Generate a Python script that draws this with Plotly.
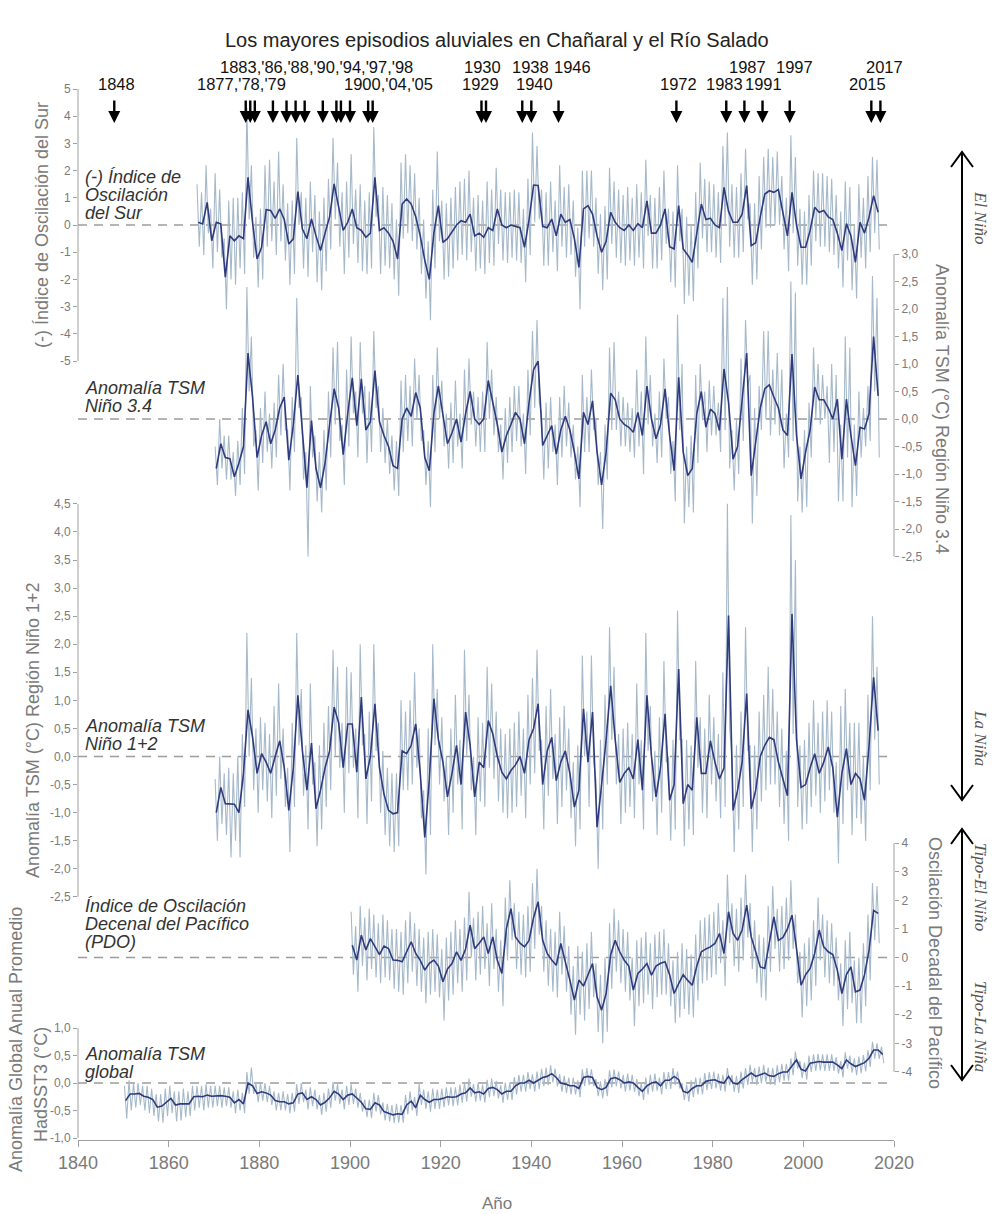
import plotly.graph_objects as go

# ------------------------------------------------------------------
# DATA (annual values)
# ------------------------------------------------------------------
SOI_START = 1866   # (-) Southern Oscillation Index
SOI_SMOOTH = [
    0.1, 0.04, 0.83, -0.58,
    0.1, 0.04, -1.92, -0.4, -0.58, -0.4, -0.5, 1.75, 0.1, -1.25,
    -0.82, 0.56, 0.53, 0.24, 0.59, 0.2, -0.7, -0.51, 1.23, -0.15,
    -0.5, 0.22, -0.4, -0.94, -0.3, 0.3, 1.51, 0.6, -0.2, 0.1,
    0.59, -0.1, -0.2, -0.45, -0.3, 1.75, -0.2, -0.1, -0.3, -0.6,
    -1.25, 0.77, 0.96, 0.77, 0.3, -0.4, -1.3, -2.0, -0.3, 0.71,
    -0.64, -0.5, -0.27, 0.0, 0.16, 0.1, 0.4, -0.4, -0.3, -0.45,
    -0.1, -0.2, 0.59, 0.0, -0.1, 0.0, -0.05, -0.1, -0.82, 0.2,
    1.47, 1.45, -0.05, -0.1, 0.22, -0.4, 0.4, 0.1, 0.2, -0.5,
    -1.56, 0.59, 0.71, 0.4, -0.4, -1.0, -0.6, 0.47, 0.1, -0.1,
    -0.2, 0.0, -0.2, 0.05, -0.1, 0.89, -0.3, -0.3, 0.0, 0.59,
    -0.8, -0.88, 0.71, -0.88, -1.1, -1.37, -0.3, 0.77, 0.2, 0.25,
    0.0, -0.1, 1.38, 0.5, 0.1, 0.1, 0.4, 1.45, -0.76, -0.65,
    0.3, 1.14, 1.26, 1.2, 1.3, 0.4, -0.4, 1.2, 0.0, -0.82,
    -0.82, -0.2, 0.65, 0.47, 0.53, 0.3, 0.2, -0.3, -0.94, 0.05,
    -0.4, -1.37, 0.1, -0.3, 0.3, 1.08, 0.47]
SOI_HIGH = [
    1.5, 1.2, 2.2, 0.6,
    1.9, 1.3, -0.5, 0.9, 1.0, 1.0, 1.2, 4.3, 2.2, 0.3,
    0.6, 2.2, 2.4, 1.6, 2.7, 1.5, 0.8, 0.9, 3.2, 1.2,
    1.0, 1.6, 1.1, 0.5, 1.0, 1.7, 3.2, 2.3, 1.2, 1.6,
    2.6, 1.3, 1.5, 0.9, 1.2, 3.6, 1.1, 1.4, 1.1, 0.8,
    0.2, 2.3, 2.6, 2.2, 1.9, 1.0, 0.2, -0.6, 1.3, 2.7,
    0.9, 0.8, 1.0, 1.4, 1.6, 1.7, 2.0, 1.0, 1.1, 0.9,
    1.6, 1.3, 2.1, 1.3, 1.2, 1.2, 1.3, 1.2, 0.6, 1.7,
    3.4, 2.9, 1.3, 1.2, 1.6, 0.9, 2.2, 1.4, 1.5, 0.9,
    -0.1, 2.0, 2.0, 2.0, 1.0, 0.4, 0.7, 2.1, 1.6, 1.3,
    1.1, 1.4, 1.0, 1.5, 1.2, 2.4, 1.1, 1.0, 1.4, 2.0,
    0.6, 0.5, 2.2, 0.6, 0.3, 0.0, 1.2, 2.3, 1.7, 1.6,
    1.5, 1.2, 2.9, 3.4, 1.5, 1.4, 1.9, 2.8, 0.8, 0.8,
    1.8, 2.5, 2.8, 2.5, 2.7, 1.8, 1.0, 3.3, 2.5, 0.6,
    0.5, 1.1, 2.0, 1.9, 1.9, 1.8, 1.7, 1.1, 0.5, 1.6,
    1.4, 0.0, 1.5, 1.0, 1.8, 2.5, 2.4]
SOI_LOW = [
    -0.8, -1.1, -0.3, -1.6,
    -1.0, -1.2, -3.1, -2.0, -2.2, -1.6, -1.8, 0.2, -1.2, -2.3,
    -2.0, -0.8, -0.6, -1.1, -0.6, -1.3, -2.2, -1.8, 0.0, -1.6,
    -1.9, -1.0, -2.1, -2.4, -1.7, -0.9, 0.2, -0.8, -1.8, -1.2,
    -0.7, -1.4, -1.7, -1.8, -1.6, 0.3, -1.8, -1.5, -1.6, -2.0,
    -2.6, -0.5, -0.3, -0.6, -0.9, -1.8, -2.7, -3.5, -1.6, -0.6,
    -2.0, -1.9, -1.6, -1.3, -1.1, -1.3, -1.0, -1.7, -1.6, -1.8,
    -1.4, -1.5, -0.7, -1.3, -1.4, -1.2, -1.3, -1.4, -2.1, -1.1,
    0.1, 0.2, -1.5, -1.5, -1.0, -1.7, -0.8, -1.2, -1.1, -1.9,
    -3.1, -0.8, -0.5, -0.8, -1.8, -2.4, -2.0, -0.7, -1.2, -1.4,
    -1.5, -1.3, -1.5, -1.2, -1.6, -0.4, -1.6, -1.6, -1.3, -0.7,
    -2.1, -2.3, -0.6, -2.9, -2.6, -2.8, -1.6, -0.5, -1.0, -1.0,
    -1.2, -1.4, 0.0, -0.8, -1.2, -1.2, -1.0, 0.2, -2.2, -2.0,
    -0.9, -0.1, -0.1, 0.0, 0.0, -0.9, -1.7, -0.3, -1.5, -2.2,
    -2.2, -1.5, -0.6, -0.8, -0.8, -1.0, -1.1, -1.6, -2.3, -1.3,
    -2.4, -2.7, -1.2, -1.6, -1.0, -0.3, -0.9]

N34_START = 1870   # SST anomaly Nino 3.4
N34_SMOOTH = [
    -0.9, -0.45, -0.7, -0.72, -1.05, -0.8, -0.5, 1.2, 0.4, -0.7,
    -0.3, -0.05, -0.45, -0.2, 0.2, 0.4, -0.75, -0.1, 0.8, -0.3,
    -1.25, -0.03, -0.9, -1.25, -0.8, -0.1, 0.55, 0.2, -0.65, 0.1,
    0.75, -0.12, 0.73, -0.2, -0.05, 0.88, -0.05, -0.3, -0.5, -0.85,
    -0.9, 0.0, 0.2, 0.05, 0.48, 0.2, -0.7, -0.94, 0.1, 0.6,
    0.1, -0.45, -0.25, 0.0, -0.42, 0.1, 0.5, 0.0, -0.1, 0.0,
    0.7, 0.3, -0.1, -0.6, -0.3, -0.1, 0.12, 0.0, -0.45, 0.3,
    0.9, 1.05, -0.48, -0.3, -0.12, -0.64, -0.2, 0.05, -0.2, -0.6,
    -1.09, 0.12, -0.1, 0.33, -0.6, -1.2, -0.6, 0.47, 0.35, 0.0,
    -0.1, -0.15, -0.24, 0.12, -0.3, 0.6, 0.0, -0.36, -0.1, 0.55,
    -0.3, -0.94, 0.76, -0.6, -1.03, -0.9, 0.1, 0.5, -0.15, 0.18,
    0.1, -0.21, 0.91, 0.3, -0.73, -0.5, 0.3, 1.2, -1.03, -0.4,
    0.2, 0.55, 0.62, 0.4, 0.2, -0.2, -0.3, 1.18, -0.3, -1.09,
    -0.6, -0.2, 0.58, 0.35, 0.35, 0.2, 0.0, 0.36, -0.73, 0.36,
    -0.3, -0.85, -0.15, -0.18, 0.1, 1.5, 0.42]
N34_HIGH = [
    -0.5, 0.0, -0.3, -0.3, -0.6, -0.4, 0.2, 2.4, 1.5, -0.2,
    0.2, 0.5, 0.1, 0.3, 0.8, 1.0, -0.2, 0.4, 2.2, 0.4,
    -0.6, 0.6, -0.3, -0.6, -0.2, 0.5, 1.3, 1.4, -0.1, 0.9,
    1.5, 0.5, 1.4, 0.6, 0.5, 1.6, 0.6, 0.2, 0.0, -0.3,
    -0.4, 0.7, 0.8, 0.6, 1.1, 0.8, -0.2, -0.4, 0.8, 1.3,
    0.7, 0.1, 0.3, 0.7, 0.1, 0.9, 1.1, 0.5, 0.4, 0.5,
    1.4, 0.9, 0.4, -0.1, 0.2, 0.4, 0.6, 0.6, 0.1, 0.9,
    1.6, 1.8, 0.1, 0.3, 0.4, -0.1, 0.4, 0.6, 0.3, -0.1,
    -0.5, 0.8, 0.4, 0.9, 0.0, -0.6, -0.1, 1.3, 1.4, 0.5,
    0.4, 0.3, 0.2, 0.9, 0.5, 1.5, 0.8, 0.1, 0.5, 1.1,
    0.4, -0.4, 1.9, 1.0, -0.5, -0.3, 0.8, 1.0, 0.5, 0.7,
    0.6, 0.3, 2.2, 2.4, -0.2, 0.0, 1.1, 1.8, 0.8, 0.2,
    0.6, 1.6, 1.6, 0.9, 1.2, 0.9, 0.1, 2.5, 2.3, -0.5,
    -0.2, 0.3, 1.3, 1.0, 0.8, 0.6, 1.0, 0.8, -0.1, 1.5,
    1.3, -0.1, 0.5, 0.2, 0.6, 2.6, 2.2]
N34_LOW = [
    -1.2, -0.9, -1.1, -1.1, -1.4, -1.2, -1.0, 0.5, -0.5, -1.3,
    -0.8, -0.6, -0.9, -0.7, -0.3, -0.2, -1.3, -0.6, 0.2, -1.1,
    -2.5, -0.7, -1.5, -1.7, -1.3, -0.7, -0.1, -0.4, -1.2, -0.5,
    0.1, -0.7, 0.1, -0.8, -0.6, 0.2, -0.6, -0.8, -1.0, -1.3,
    -1.4, -0.6, -0.4, -0.5, 0.0, -0.4, -1.2, -1.6, -0.6, 0.0,
    -0.5, -0.9, -0.8, -0.5, -0.9, -0.4, -0.1, -0.5, -0.6, -0.6,
    0.0, -0.3, -0.6, -1.1, -0.8, -0.6, -0.4, -0.5, -1.0, -0.3,
    0.2, 0.3, -1.1, -0.9, -0.6, -1.2, -0.7, -0.5, -0.7, -1.1,
    -1.6, -0.6, -0.6, -0.2, -1.2, -2.0, -1.1, -0.2, -0.2, -0.5,
    -0.5, -0.6, -0.7, -0.5, -1.0, -0.1, -0.5, -0.8, -0.7, 0.0,
    -1.0, -1.5, -0.2, -1.9, -1.6, -1.7, -0.8, 0.0, -0.6, -0.3,
    -0.3, -0.6, -0.2, -0.9, -1.3, -1.0, -0.4, 0.6, -1.9, -1.4,
    -0.2, 0.0, -0.3, -0.1, -0.3, -0.9, -0.7, -0.4, -1.5, -1.7,
    -1.6, -0.7, 0.0, -0.1, 0.0, -0.8, -0.6, -1.5, -1.5, -0.7,
    -1.6, -1.4, -0.7, -0.5, -0.4, 0.5, -0.7]

N12_START = 1870   # SST anomaly Nino 1+2
N12_SMOOTH = [
    -1.0, -0.55, -0.84, -0.85, -0.85, -1.0, -0.3, 0.83, 0.35, -0.3,
    0.05, -0.1, -0.3, 0.0, 0.28, -0.2, -0.96, -0.2, 1.09, 0.1,
    -0.6, 0.24, -0.93, -0.6, -0.2, 0.1, 0.88, 0.6, -0.2, 0.58,
    0.58, -0.28, 1.06, -0.4, 0.0, 0.94, -0.2, -0.67, -0.96, -1.02,
    -1.0, 0.1, 0.05, 0.2, 0.58, -0.3, -1.44, -0.4, 1.03, 0.3,
    -0.1, -0.72, -0.3, 0.2, -0.5, 0.79, 0.2, -0.72, -0.1, -0.2,
    0.64, 0.4, 0.0, -0.28, -0.4, -0.25, -0.15, 0.0, -0.3, 0.3,
    0.5, 0.94, -0.5, 0.1, 0.34, -0.43, -0.1, 0.1, -0.3, -0.9,
    -0.6, 0.85, -0.1, 0.79, -1.26, -0.5, 0.3, 1.26, 0.3, -0.46,
    -0.3, -0.2, -0.4, 0.3, -0.6, 1.09, 0.0, -0.72, -0.2, 0.76,
    -0.78, -0.5, 1.56, -0.84, -0.5, -0.6, 0.7, -0.3, -0.3, 0.28,
    -0.1, -0.4, -0.2, 2.51, -0.96, -0.6, -0.1, 1.12, -0.93, -0.6,
    0.0, 0.2, 0.34, 0.3, -0.1, -0.4, -0.7, 2.54, 0.3, -0.55,
    -0.5, -0.2, 0.05, -0.3, -0.1, 0.17, -0.2, -1.08, -0.3, 0.14,
    -0.5, -0.3, -0.4, -0.78, 0.2, 1.41, 0.46]
N12_HIGH = [
    -0.4, 0.0, -0.3, -0.2, -0.3, 0.0, 0.4, 2.2, 1.4, 0.5,
    0.7, 0.6, 0.4, 0.9, 1.3, 0.5, -0.2, 0.6, 2.2, 1.2,
    0.2, 1.3, -0.1, 0.2, 0.6, 0.9, 1.9, 1.6, 0.6, 1.6,
    1.5, 0.5, 2.0, 0.4, 0.8, 2.0, 0.6, 0.1, -0.2, -0.3,
    -0.3, 1.0, 0.8, 1.0, 1.5, 0.5, -0.6, 0.5, 2.0, 1.2,
    0.7, 0.0, 0.5, 1.1, 0.3, 1.9, 1.1, 0.0, 0.7, 0.6,
    1.6, 1.3, 0.8, 0.5, 0.4, 0.5, 0.6, 0.8, 0.5, 1.1,
    1.4, 1.9, 0.3, 0.9, 1.2, 0.4, 0.7, 0.9, 0.5, -0.1,
    0.2, 1.8, 0.8, 1.8, -0.4, 0.3, 1.1, 2.3, 1.6, 0.4,
    0.5, 0.6, 0.4, 1.3, 0.3, 2.2, 0.9, 0.1, 0.7, 1.7,
    0.0, 0.3, 2.6, 0.3, 0.3, 0.2, 1.7, 0.7, 0.5, 1.1,
    0.7, 0.4, 1.5, 4.5, 0.0, 0.2, 0.8, 2.3, 0.2, 0.2,
    0.8, 1.1, 1.6, 1.2, 0.8, 0.5, 0.1, 4.3, 3.5, 0.2,
    0.3, 0.6, 1.0, 0.6, 0.8, 1.0, 0.8, -0.1, 0.9, 1.2,
    0.6, 0.6, 0.6, 0.0, 1.1, 2.5, 1.6]
N12_LOW = [
    -1.5, -1.2, -1.4, -1.8, -1.5, -1.8, -0.9, 0.0, -0.6, -1.0,
    -0.6, -0.8, -1.1, -0.7, -0.4, -0.9, -1.7, -0.9, 0.2, -0.7,
    -1.3, -0.5, -1.6, -1.3, -0.9, -0.6, 0.0, -0.2, -1.0, -0.3,
    -0.2, -1.1, 0.2, -1.2, -0.8, 0.1, -1.0, -1.4, -1.6, -1.7,
    -1.6, -0.6, -0.6, -0.5, -0.2, -1.1, -2.1, -1.4, 0.2, -0.5,
    -0.8, -1.4, -1.0, -0.5, -1.3, 0.0, -0.6, -1.4, -0.8, -0.9,
    -0.2, -0.4, -0.8, -1.0, -1.1, -1.0, -0.9, -0.7, -1.1, -0.5,
    -0.3, 0.1, -1.3, -0.7, -0.4, -1.2, -0.9, -0.6, -1.1, -1.6,
    -1.3, 0.0, -0.9, -0.1, -2.0, -1.3, -0.5, 0.3, -0.5, -1.2,
    -1.0, -0.9, -1.1, -0.5, -1.3, 0.1, -0.8, -1.4, -1.0, -0.1,
    -1.5, -1.3, 0.3, -1.6, -1.3, -1.4, -0.2, -1.0, -1.1, -0.5,
    -0.8, -1.1, -0.9, 0.5, -1.7, -1.3, -0.9, 0.1, -1.7, -1.3,
    -0.8, -0.6, -0.5, -0.5, -0.9, -1.2, -1.5, 0.4, -0.9, -1.3,
    -1.2, -0.9, -0.7, -1.0, -0.8, -0.6, -1.0, -1.9, -1.2, -0.6,
    -1.4, -1.1, -1.2, -1.5, -0.6, 0.3, -0.5]

PDO_START = 1900   # Pacific Decadal Oscillation
PDO_SMOOTH = [
    0.43, -0.09, 0.78, 0.26, 0.66, 0.37, 0.1, 0.4, 0.31, -0.09,
    -0.1, -0.15, 0.2, 0.55, 0.14, -0.1, -0.44, -0.2, -0.09, -0.3,
    -0.85, -0.4, -0.21, 0.2, -0.1, 0.3, 1.13, 0.31, 0.5, 0.72,
    0.14, 0.72, -0.1, -0.56, 1.01, 1.71, 0.72, 0.5, 0.37, 0.6,
    1.4, 1.95, 0.6, 0.14, -0.09, -0.27, 0.49, -0.1, -0.79, -1.49,
    -0.79, -1.0, -0.6, -0.21, -1.38, -1.84, -1.26, 0.1, 0.6, 0.2,
    -0.1, -0.3, -1.14, -0.56, -0.4, -0.21, -0.62, -0.3, -0.2, -0.15,
    -0.6, -1.26, -0.91, -0.6, -0.8, -0.97, -0.3, 0.2, 0.3, 0.37,
    0.49, 0.84, 0.14, 1.6, 0.84, 0.6, 0.96, 1.83, 0.72, 0.2,
    -0.33, -0.38, 0.6, 1.42, 0.6, 0.7, 1.0, 1.48, 0.3, -0.97,
    -0.6, -0.38, 0.14, 0.96, 0.37, 0.2, 0.1, -0.44, -1.26, -0.6,
    -0.33, -1.2, -1.14, -0.6, 0.26, 1.65, 1.54]
PDO_HIGH = [
    1.6, 1.1, 1.8, 1.4, 1.7, 1.5, 1.2, 1.5, 1.3, 1.0,
    1.0, 0.9, 1.3, 1.6, 1.2, 1.0, 0.7, 0.9, 1.0, 0.8,
    0.3, 0.7, 0.9, 1.3, 1.0, 1.4, 2.3, 1.4, 1.6, 1.8,
    1.2, 1.9, 1.0, 0.6, 2.1, 2.7, 1.9, 1.6, 1.5, 1.8,
    2.6, 3.1, 1.8, 1.3, 1.0, 0.9, 1.6, 1.1, 0.4, -0.3,
    0.4, 0.2, 0.5, 0.9, -0.2, -0.6, 0.0, 1.2, 1.7, 1.3,
    1.0, 0.9, 0.0, 0.6, 0.7, 0.9, 0.5, 0.8, 0.9, 1.0,
    0.5, -0.1, 0.2, 0.5, 0.3, 0.1, 0.8, 1.3, 1.4, 1.5,
    1.6, 1.9, 1.3, 2.9, 1.9, 1.7, 2.1, 2.9, 1.9, 1.3,
    0.8, 0.7, 1.8, 2.5, 1.7, 1.8, 2.1, 2.7, 1.5, 0.2,
    0.5, 0.7, 1.3, 2.1, 1.5, 1.3, 1.2, 0.7, -0.2, 0.6,
    0.9, -0.1, 0.0, 0.5, 1.5, 2.6, 2.5]
PDO_LOW = [
    -0.6, -1.2, -0.3, -0.8, -0.4, -0.7, -0.9, -0.7, -0.8, -1.1,
    -1.2, -1.3, -0.9, -0.5, -1.0, -1.2, -1.6, -1.3, -1.2, -1.4,
    -2.2, -1.5, -1.3, -0.9, -1.2, -0.8, 0.0, -0.8, -0.6, -0.4,
    -1.0, -0.4, -1.2, -1.7, -0.1, 0.6, -0.4, -0.6, -0.7, -0.5,
    0.3, 0.8, -0.5, -1.0, -1.2, -1.4, -0.6, -1.2, -2.0, -2.7,
    -2.0, -2.2, -1.8, -1.4, -2.6, -3.0, -2.6, -1.1, -0.5, -0.9,
    -1.2, -1.5, -2.4, -1.7, -1.6, -1.3, -1.8, -1.4, -1.3, -1.3,
    -1.7, -2.3, -2.1, -1.8, -2.0, -2.1, -1.5, -0.9, -0.8, -0.7,
    -0.6, -0.2, -1.0, 0.5, -0.3, -0.5, -0.1, 0.7, -0.4, -0.9,
    -1.4, -1.5, -0.5, 0.3, -0.5, -0.4, -0.1, 0.3, -0.9, -2.1,
    -1.7, -1.5, -1.0, -0.1, -0.7, -0.9, -1.0, -1.5, -2.4, -1.8,
    -1.6, -2.3, -2.3, -1.7, -0.8, 0.6, 0.5]

GLB_START = 1850   # global mean SST anomaly HadSST3
GLB_SMOOTH = [
    -0.32, -0.2, -0.2, -0.19, -0.24, -0.26, -0.3, -0.44, -0.42, -0.35,
    -0.28, -0.4, -0.38, -0.38, -0.38, -0.25, -0.24, -0.25, -0.22, -0.24,
    -0.23, -0.23, -0.24, -0.26, -0.36, -0.3, -0.38, 0.0, -0.05, -0.19,
    -0.16, -0.18, -0.22, -0.32, -0.34, -0.34, -0.38, -0.36, -0.2, -0.18,
    -0.3, -0.25, -0.3, -0.4, -0.35, -0.27, -0.15, -0.2, -0.3, -0.22,
    -0.2, -0.28, -0.35, -0.47, -0.48, -0.36, -0.4, -0.52, -0.55, -0.58,
    -0.56, -0.57, -0.4, -0.33, -0.45, -0.22, -0.3, -0.35, -0.3, -0.3,
    -0.28, -0.25, -0.26, -0.25, -0.2, -0.18, -0.09, -0.18, -0.16, -0.2,
    -0.1, -0.08, -0.12, -0.2, -0.15, -0.15, -0.05, 0.0, 0.0, 0.05,
    0.0, 0.05, 0.1, 0.12, 0.17, 0.1, 0.0, -0.02, -0.05, -0.05,
    -0.1, 0.1, 0.12, 0.1, -0.08, -0.12, -0.08, 0.08, 0.1, 0.06,
    0.0, 0.02, 0.0, -0.08, -0.15, -0.05, 0.0, 0.02, -0.05, 0.05,
    0.05, 0.12, 0.06, -0.15, -0.18, -0.1, -0.05, -0.05, 0.03, 0.05,
    0.06, 0.02, 0.0, 0.12, 0.0, -0.02, 0.06, 0.12, 0.18, 0.12,
    0.15, 0.18, 0.13, 0.12, 0.17, 0.2, 0.2, 0.3, 0.42, 0.25,
    0.22, 0.36, 0.38, 0.39, 0.38, 0.38, 0.38, 0.33, 0.26, 0.42,
    0.35, 0.3, 0.34, 0.37, 0.45, 0.6, 0.6, 0.52]
GLB_HIGH = [
    -0.05, 0.05, 0.0, 0.0, -0.05, -0.05, -0.1, -0.2, -0.2, -0.1,
    -0.05, -0.15, -0.15, -0.1, -0.15, -0.05, -0.05, -0.05, -0.02, -0.05,
    -0.05, -0.05, -0.08, -0.08, -0.15, -0.12, -0.18, 0.2, 0.28, 0.0,
    0.0, 0.0, -0.05, -0.15, -0.18, -0.15, -0.2, -0.18, -0.02, 0.0,
    -0.12, -0.08, -0.12, -0.22, -0.18, -0.1, 0.02, -0.02, -0.12, -0.05,
    -0.02, -0.1, -0.18, -0.3, -0.3, -0.18, -0.22, -0.35, -0.38, -0.4,
    -0.38, -0.4, -0.22, -0.15, -0.25, -0.02, -0.12, -0.15, -0.1, -0.12,
    -0.1, -0.08, -0.08, -0.08, -0.03, 0.0, 0.08, -0.02, 0.0, -0.03,
    0.06, 0.08, 0.04, -0.04, 0.01, 0.01, 0.11, 0.15, 0.15, 0.2,
    0.16, 0.21, 0.26, 0.28, 0.32, 0.26, 0.16, 0.13, 0.1, 0.1,
    0.05, 0.25, 0.27, 0.25, 0.07, 0.03, 0.07, 0.23, 0.25, 0.21,
    0.15, 0.17, 0.15, 0.07, 0.0, 0.1, 0.15, 0.17, 0.1, 0.2,
    0.2, 0.27, 0.21, 0.0, -0.03, 0.05, 0.1, 0.1, 0.18, 0.2,
    0.21, 0.17, 0.15, 0.27, 0.15, 0.13, 0.21, 0.27, 0.33, 0.27,
    0.3, 0.33, 0.28, 0.27, 0.32, 0.35, 0.35, 0.45, 0.57, 0.4,
    0.37, 0.5, 0.52, 0.53, 0.52, 0.52, 0.52, 0.47, 0.4, 0.56,
    0.5, 0.45, 0.48, 0.51, 0.6, 0.75, 0.72, 0.66]
GLB_LOW = [
    -0.65, -0.5, -0.45, -0.4, -0.5, -0.55, -0.6, -0.7, -0.72, -0.6,
    -0.55, -0.7, -0.68, -0.62, -0.6, -0.5, -0.45, -0.5, -0.45, -0.45,
    -0.42, -0.45, -0.42, -0.45, -0.55, -0.5, -0.55, -0.2, -0.2, -0.35,
    -0.32, -0.35, -0.4, -0.5, -0.5, -0.5, -0.55, -0.52, -0.38, -0.35,
    -0.48, -0.42, -0.48, -0.58, -0.52, -0.45, -0.32, -0.38, -0.48, -0.4,
    -0.38, -0.45, -0.52, -0.62, -0.64, -0.52, -0.57, -0.68, -0.7, -0.73,
    -0.72, -0.72, -0.57, -0.5, -0.6, -0.4, -0.47, -0.52, -0.47, -0.47,
    -0.44, -0.41, -0.42, -0.41, -0.36, -0.34, -0.25, -0.34, -0.32, -0.36,
    -0.26, -0.24, -0.28, -0.36, -0.31, -0.31, -0.21, -0.16, -0.16, -0.11,
    -0.16, -0.11, -0.06, -0.04, 0.01, -0.06, -0.16, -0.18, -0.21, -0.21,
    -0.26, -0.06, -0.04, -0.06, -0.24, -0.28, -0.24, -0.08, -0.06, -0.1,
    -0.16, -0.14, -0.16, -0.24, -0.31, -0.21, -0.16, -0.14, -0.21, -0.11,
    -0.11, -0.04, -0.1, -0.31, -0.34, -0.26, -0.21, -0.21, -0.13, -0.11,
    -0.1, -0.14, -0.16, -0.04, -0.16, -0.18, -0.1, -0.04, 0.02, -0.04,
    -0.01, 0.02, -0.03, -0.04, 0.01, 0.04, 0.04, 0.14, 0.26, 0.09,
    0.06, 0.2, 0.22, 0.23, 0.22, 0.22, 0.22, 0.17, 0.1, 0.26,
    0.19, 0.14, 0.18, 0.21, 0.29, 0.44, 0.44, 0.36]

# Major alluvial (flood) events
FLOOD_YEARS = [1848, 1877, 1878, 1879, 1883, 1886, 1888, 1890, 1894, 1897,
               1898, 1900, 1904, 1905, 1929, 1930, 1938, 1940, 1946, 1972,
               1983, 1987, 1991, 1997, 2015, 2017]
FLOOD_LABELS = [  # text, year where label is centred, row (1 = upper)
    ("1848", 1848.6, 2),
    ("1877,'78,'79", 1876.0, 2),
    ("1883,'86,'88,'90,'94,'97,'98", 1892.7, 1),
    ("1900,'04,'05", 1908.4, 2),
    ("1930", 1929.3, 1), ("1929", 1928.8, 2),
    ("1938", 1939.9, 1), ("1940", 1940.6, 2),
    ("1946", 1949.0, 1),
    ("1972", 1972.4, 2),
    ("1983", 1982.6, 2), ("1991", 1991.3, 2),
    ("1987", 1987.6, 1), ("1997", 1998.0, 1),
    ("2015", 2014.1, 2), ("2017", 2017.8, 1),
]

X_TICKS = [1840, 1860, 1880, 1900, 1920, 1940, 1960, 1980, 2000, 2020]
SOI_TICKS = [-5, -4, -3, -2, -1, 0, 1, 2, 3, 4, 5]
N34_TICKS = [-2.5, -2.0, -1.5, -1.0, -0.5, 0.0, 0.5, 1.0, 1.5, 2.0, 2.5, 3.0]
N12_TICKS = [-2.5, -2.0, -1.5, -1.0, -0.5, 0.0, 0.5, 1.0, 1.5, 2.0, 2.5,
             3.0, 3.5, 4.0, 4.5]
PDO_TICKS = [-4, -3, -2, -1, 0, 1, 2, 3, 4]
GLB_TICKS = [-1.0, -0.5, 0.0, 0.5, 1.0]

# ------------------------------------------------------------------
# LAYOUT GEOMETRY (pixels of the 994 x 1214 page)
# ------------------------------------------------------------------
W, H = 994, 1214
L, R, T, B = 78, 894, 60, 1140
FONT = "Liberation Sans, Arial, sans-serif"
SERIF = "Liberation Serif, Times New Roman, serif"
RAW_COLOR = "#a6b9ca"
SMOOTH_COLOR = "#2f3b7c"
AXIS_GREY = "#a0a0a0"
TEXT_GREY = "#7a7a7a"


def xp(X):
    return (X - L) / (R - L)


def yp(Y):
    return (B - Y) / (B - T)


# zero pixel row and pixels per unit for each stacked axis
AXES = {
    "y":  dict(zero=225.0, ppu=27.2, side="left", ticks=SOI_TICKS, dec=0),
    "y2": dict(zero=419.0, ppu=55.0, side="right", ticks=N34_TICKS, dec=1),
    "y3": dict(zero=756.5, ppu=56.14, side="left", ticks=N12_TICKS, dec=1),
    "y4": dict(zero=957.5, ppu=28.6, side="right", ticks=PDO_TICKS, dec=0),
    "y5": dict(zero=1083.0, ppu=55.0, side="left", ticks=GLB_TICKS, dec=1),
}


def fmt(v, dec):
    if dec == 0:
        return str(int(round(v)))
    return f"{v:.{dec}f}".replace(".", ",")


def raw_xy(start, hi, lo):
    xs, ys = [], []
    for i, (h, l) in enumerate(zip(hi, lo)):
        xs += [start + i + 0.25, start + i + 0.75]
        ys += [h, l]
    return xs, ys


SERIES = [
    ("y", SOI_START, SOI_SMOOTH, SOI_HIGH, SOI_LOW),
    ("y2", N34_START, N34_SMOOTH, N34_HIGH, N34_LOW),
    ("y3", N12_START, N12_SMOOTH, N12_HIGH, N12_LOW),
    ("y4", PDO_START, PDO_SMOOTH, PDO_HIGH, PDO_LOW),
    ("y5", GLB_START, GLB_SMOOTH, GLB_HIGH, GLB_LOW),
]

fig = go.Figure()
for ax, start, sm, hi, lo in SERIES:
    rx, ry = raw_xy(start, hi, lo)
    fig.add_trace(go.Scatter(x=rx, y=ry, yaxis=ax, mode="lines",
                             line=dict(color=RAW_COLOR, width=1.1),
                             hoverinfo="skip", showlegend=False))
for ax, start, sm, hi, lo in SERIES:
    fig.add_trace(go.Scatter(x=[start + i + 0.5 for i in range(len(sm))],
                             y=sm, yaxis=ax, mode="lines",
                             line=dict(color=SMOOTH_COLOR, width=1.6),
                             showlegend=False))

layout_axes = {}
shapes = []
for key, g in AXES.items():
    rng = [(g["zero"] - B) / g["ppu"], (g["zero"] - T) / g["ppu"]]
    cfg = dict(range=rng, domain=[0, 1], side=g["side"],
               tickmode="array", tickvals=g["ticks"],
               ticktext=[fmt(v, g["dec"]) for v in g["ticks"]],
               ticks="outside", ticklen=4, tickwidth=1, tickcolor=AXIS_GREY,
               tickfont=dict(size=12, color=TEXT_GREY, family=FONT),
               showgrid=False, zeroline=False, showline=False,
               fixedrange=True)
    if key != "y":
        cfg.update(overlaying="y", anchor="x")
    layout_axes["yaxis" if key == "y" else "yaxis" + key[1:]] = cfg
    # axis spine only across the tick range
    xs = 0 if g["side"] == "left" else 1
    shapes.append(dict(type="line", xref="paper", yref=key, x0=xs, x1=xs,
                       y0=min(g["ticks"]), y1=max(g["ticks"]),
                       line=dict(color=AXIS_GREY, width=1)))
    # dashed zero reference line
    shapes.append(dict(type="line", xref="paper", yref=key, x0=0, x1=0.995,
                       y0=0, y1=0, layer="below",
                       line=dict(color="#9c9c9c", width=1.4, dash="9px,7px")))


def arrow_path(X, Ytop, Ybot, hw=11, hl=15):
    pts = [
        ("M", X, Ytop), ("L", X, Ybot),
        ("M", X - hw, Ytop + hl), ("L", X, Ytop), ("L", X + hw, Ytop + hl),
        ("M", X - hw, Ybot - hl), ("L", X, Ybot), ("L", X + hw, Ybot - hl),
    ]
    return " ".join(f"{c} {xp(x):.5f},{yp(y):.5f}" for c, x, y in pts)


for ytop, ybot in [(152, 800), (829, 1080)]:
    shapes.append(dict(type="path", xref="paper", yref="paper",
                       path=arrow_path(962, ytop, ybot),
                       line=dict(color="black", width=2)))

ann = []
# flood arrows
for yr in FLOOD_YEARS:
    ann.append(dict(x=yr, y=3.75, xref="x", yref="y", text="", showarrow=True,
                    ax=0, ay=-24, arrowhead=2, arrowsize=1.0, arrowwidth=2.4,
                    arrowcolor="black", standoff=0))
for text, xpos, row in FLOOD_LABELS:
    ann.append(dict(x=xpos, y=yp(67 if row == 1 else 84), xref="x", yref="paper",
                    text=text, showarrow=False, xanchor="center",
                    yanchor="middle",
                    font=dict(size=16.5, color="#111111", family=FONT)))

# title
ann.append(dict(x=xp(497), y=yp(40), xref="paper", yref="paper",
                text="Los mayores episodios aluviales en Chañaral y el Río Salado",
                showarrow=False, xanchor="center", yanchor="middle",
                font=dict(size=20, color="#222222", family=FONT)))

# panel labels (italic)
PANEL_TEXT = [
    (["(-) Índice de", "Oscilación", "del Sur"], 177),
    (["Anomalía TSM", "Niño 3.4"], 388),
    (["Anomalía TSM", "Niño 1+2"], 726),
    (["Índice de Oscilación", "Decenal del Pacífico", "(PDO)"], 906),
    (["Anomalía TSM", "global"], 1054),
]
for lines, y0 in PANEL_TEXT:
    for i, t in enumerate(lines):
        ann.append(dict(x=xp(83), y=yp(y0 + 18 * i), xref="paper",
                        yref="paper", text=f"<i>{t}</i>", showarrow=False,
                        xanchor="left", yanchor="middle",
                        font=dict(size=18, color="#333333", family=FONT)))

# axis titles
AX_TITLES = [
    ("(-) Índice de Oscilación del Sur", 42, 225, -90),
    ("Anomalía TSM (°C) Región Niño 3.4", 942, 409, 90),
    ("Anomalía TSM (°C) Región Niño 1+2", 33, 730, -90),
    ("Oscilación Decadal del Pacífico", 935, 963, 90),
    ("Anomalía Global Anual Promedio", 16, 1040, -90),
    ("HadSST3 (°C)", 41, 1085, -90),
]
for t, X, Y, ang in AX_TITLES:
    ann.append(dict(x=xp(X), y=yp(Y), xref="paper", yref="paper", text=t,
                    textangle=ang, showarrow=False, xanchor="center",
                    yanchor="middle",
                    font=dict(size=18, color=TEXT_GREY, family=FONT)))

# phase labels next to the big arrows
for t, Y in [("El Niño", 217), ("La Niña", 738), ("Tipo-El Niño", 887),
             ("Tipo-La Niña", 1026)]:
    ann.append(dict(x=xp(981), y=yp(Y), xref="paper", yref="paper",
                    text=f"<i>{t}</i>", textangle=90, showarrow=False,
                    xanchor="center", yanchor="middle",
                    font=dict(size=17, color="#555555", family=SERIF)))

# x-axis title
ann.append(dict(x=xp(497), y=yp(1203), xref="paper", yref="paper", text="Año",
                showarrow=False, xanchor="center", yanchor="middle",
                font=dict(size=17, color=TEXT_GREY, family=FONT)))

fig.update_layout(
    width=W, height=H,
    margin=dict(l=L, r=W - R, t=T, b=H - B, autoexpand=False),
    paper_bgcolor="white", plot_bgcolor="white",
    showlegend=False,
    xaxis=dict(range=[1840, 2020], tickmode="array", tickvals=X_TICKS,
               ticks="outside", ticklen=6, tickcolor=AXIS_GREY,
               showline=True, linecolor=AXIS_GREY, linewidth=1.2,
               showgrid=False, zeroline=False, fixedrange=True,
               tickfont=dict(size=18, color=TEXT_GREY, family=FONT)),
    shapes=shapes,
    annotations=ann,
    **layout_axes,
)

fig.write_html(
    "out.html",
    config={"displayModeBar": False},
    post_script="document.body.style.margin='0px';"
                "document.body.style.overflow='hidden';",
)
